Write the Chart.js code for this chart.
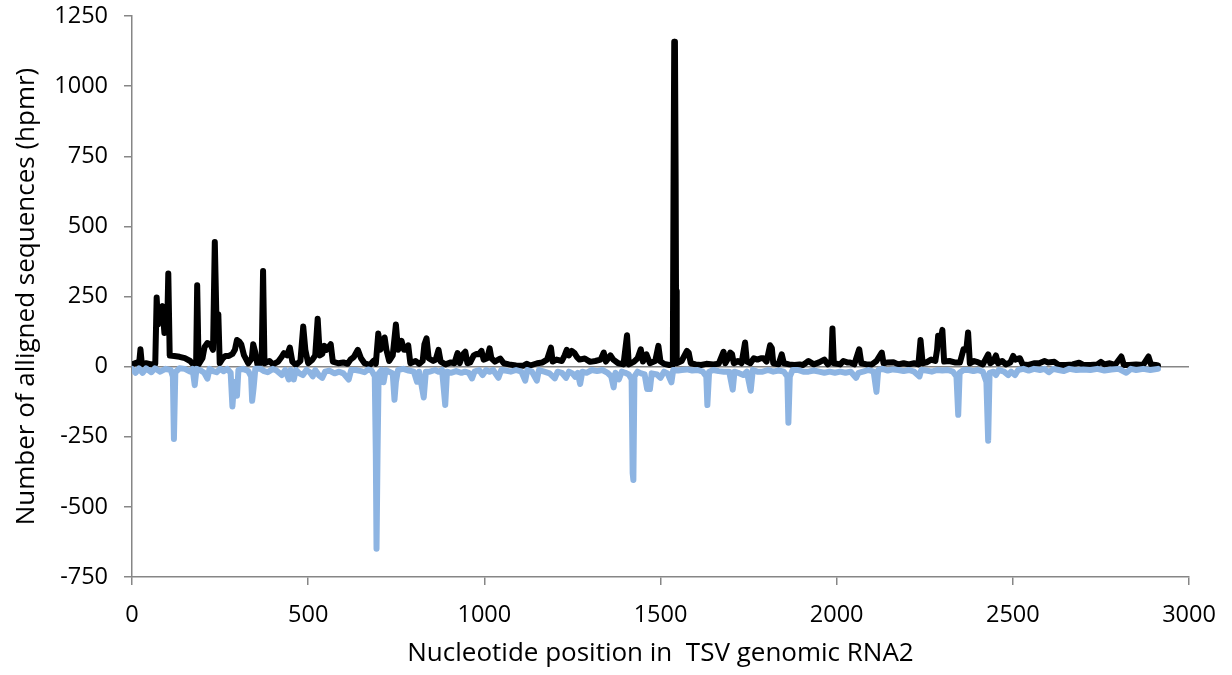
<!DOCTYPE html>
<html>
<head>
<meta charset="utf-8">
<script src="https://cdn.jsdelivr.net/npm/chart.js@4.4.1/dist/chart.umd.min.js"></script>
<style>
  html, body { margin: 0; padding: 0; background: #fff; }
  #wrap { width: 1232px; height: 675px; }
</style>
</head>
<body>
<div id="wrap"><canvas id="readsChart" width="1232" height="675"></canvas></div>
<script>
// sense strand reads (black), positions along TSV RNA2
const sensePos = [
  0, 12, 20, 24, 28, 40, 55, 66, 70, 74, 78, 86, 92, 100, 103, 107, 120, 135, 150, 165, 175, 182, 185, 189,
  200, 206, 214, 222, 230, 235, 240, 245, 249, 258, 265, 275, 285, 292, 298, 304, 310, 318, 330, 340, 344,
  350, 356, 368, 372, 376, 390, 400, 415, 425, 431, 440, 448, 455, 465, 478, 486, 492, 500, 512, 520, 527,
  533, 540, 546, 552, 558, 564, 570, 585, 600, 612, 620, 630, 641, 650, 660, 675, 685, 692, 699, 705, 711,
  717, 722, 730, 740, 749, 755, 760, 765, 772, 778, 784, 790, 805, 815, 825, 830, 836, 842, 855, 862, 870,
  876, 890, 905, 915, 924, 930, 940, 946, 952, 960, 970, 978, 984, 992, 998, 1008, 1015, 1020, 1030, 1045,
  1055, 1070, 1090, 1110, 1120, 1130, 1150, 1165, 1178, 1189, 1194, 1205, 1220, 1228, 1234, 1240, 1248,
  1256, 1263, 1270, 1285, 1300, 1315, 1330, 1339, 1345, 1358, 1366, 1380, 1395, 1405, 1410, 1425, 1435,
  1444, 1450, 1460, 1470, 1485, 1494, 1500, 1510, 1525, 1535, 1537, 1539, 1541, 1543, 1544, 1546, 1560,
  1575, 1580, 1586, 1600, 1615, 1630, 1650, 1665, 1679, 1684, 1692, 1698, 1703, 1708, 1720, 1730, 1740,
  1745, 1755, 1765, 1775, 1785, 1792, 1801, 1811, 1816, 1820, 1835, 1844, 1850, 1865, 1880, 1895, 1905,
  1920, 1935, 1950, 1965, 1975, 1985, 1988, 1992, 2010, 2019, 2030, 2038, 2050, 2064, 2070, 2085, 2100,
  2113, 2128, 2133, 2145, 2161, 2175, 2190, 2205, 2220, 2232, 2238, 2244, 2255, 2268, 2280, 2285, 2288,
  2295, 2300, 2305, 2320, 2335, 2350, 2360, 2368, 2373, 2378, 2390, 2402, 2415, 2430, 2436, 2445, 2452,
  2458, 2470, 2480, 2493, 2501, 2507, 2520, 2528, 2545, 2560, 2575, 2590, 2600, 2618, 2630, 2650, 2670,
  2688, 2700, 2720, 2740, 2750, 2760, 2775, 2790, 2808, 2815, 2830, 2850, 2870, 2885, 2892, 2905, 2912
];
const senseReads = [
  8, 14, 8, 62, 8, 12, 8, 10, 246, 150, 200, 216, 120, 150, 332, 40, 38, 35, 30, 20, 6, 10, 290, 8,
  30, 70, 84, 80, 60, 444, 150, 187, 12, 30, 38, 38, 45, 60, 95, 90, 80, 40, 12, 30, 80,
  50, 8, 15, 341, 12, 20, 8, 18, 35, 48, 40, 68, 18, 6, 20, 143, 60, 12, 25, 40, 171,
  40, 45, 74, 60, 70, 80, 18, 12, 15, 10, 25, 35, 60, 30, 12, 6, 20, 10, 118, 60, 80,
  104, 60, 20, 40, 150, 60, 70, 92, 60, 60, 76, 12, 20, 10, 20, 80, 101, 30, 20, 25, 60,
  18, 8, 15, 12, 48, 12, 45, 53, 12, 15, 40, 45, 44, 56, 25, 30, 65, 30, 18, 29,
  12, 8, 4, 3, 10, 4, 12, 15, 25, 68, 18, 25, 20, 40, 60, 40, 56,
  48, 34, 25, 29, 17, 20, 25, 50, 18, 40, 25, 12, 8, 112, 8, 18, 30,
  62, 18, 44, 12, 20, 74, 18, 10, 6, 8, 650, 1158, 1150, 660, 270, 12, 20,
  56, 50, 12, 8, 6, 10, 8, 10, 53, 12, 30, 50, 45, 12, 20, 12, 86,
  18, 12, 30, 25, 30, 30, 18, 76, 66, 12, 8, 44, 12, 8, 6, 8, 6,
  20, 8, 15, 25, 8, 20, 136, 12, 8, 20, 15, 15, 8, 62, 12, 8, 8,
  20, 50, 12, 15, 16, 8, 12, 8, 12, 8, 95, 12, 15, 25, 20, 60, 110,
  90, 131, 18, 20, 15, 15, 62, 60, 122, 12, 20, 15, 8, 44, 12, 20, 40,
  12, 20, 8, 15, 38, 25, 30, 8, 6, 12, 12, 20, 15, 17, 6, 6, 8,
  14, 6, 6, 8, 17, 8, 12, 6, 36, 6, 6, 8, 6, 36, 8, 6, 4
];

// antisense strand reads (light blue), plotted below zero
const antisensePos = [
  0, 10, 20, 30, 40, 55, 65, 80, 95, 110, 116, 119, 123, 135, 150, 165, 172, 178, 183, 195, 205, 214, 220,
  230, 240, 250, 260, 270, 280, 285, 290, 295, 298, 302, 315, 330, 338, 341, 345, 350, 365, 375, 385, 400,
  410, 425, 435, 445, 450, 459, 465, 475, 485, 495, 505, 513, 520, 530, 540, 548, 560, 575, 588, 600, 615,
  622, 635, 650, 660, 670, 680, 689, 692, 694, 697, 700, 708, 714, 720, 730, 740, 745, 749, 755, 770, 785,
  800, 809, 815, 828, 834, 845, 860, 870, 880, 889, 894, 905, 920, 935, 945, 956, 965, 972, 985, 995,
  1005, 1015, 1025, 1040, 1048, 1060, 1075, 1090, 1105, 1116, 1122, 1135, 1149, 1155, 1170, 1185, 1200,
  1208, 1220, 1232, 1240, 1250, 1258, 1265, 1272, 1278, 1290, 1305, 1320, 1335, 1350, 1360, 1367, 1372,
  1382, 1390, 1400, 1410, 1418, 1421, 1423, 1426, 1435, 1445, 1455, 1462, 1466, 1470, 1475, 1490, 1500,
  1510, 1520, 1531, 1536, 1550, 1560, 1575, 1590, 1605, 1620, 1630, 1633, 1638, 1650, 1665, 1680, 1695,
  1705, 1710, 1720, 1735, 1745, 1756, 1762, 1775, 1790, 1805, 1820, 1835, 1850, 1860, 1863, 1867, 1875,
  1890, 1905, 1920, 1935, 1950, 1965, 1980, 1995, 2010, 2025, 2040, 2055, 2062, 2075, 2090, 2105, 2113,
  2118, 2130, 2145, 2160, 2175, 2190, 2205, 2220, 2235, 2240, 2255, 2270, 2285, 2300, 2315, 2330, 2340,
  2345, 2349, 2360, 2375, 2388, 2400, 2415, 2425, 2430, 2434, 2445, 2452, 2460, 2475, 2487, 2495, 2506,
  2515, 2530, 2545, 2560, 2577, 2590, 2602, 2615, 2630, 2645, 2660, 2680, 2700, 2720, 2740, 2760, 2780,
  2800, 2822, 2835, 2850, 2870, 2890, 2912
];
const antisenseReads = [
  -8, -22, -6, -22, -6, -20, -6, -18, -8, -12, -35, -258, -20, -6, -8, -18, -8, -66, -8, -14, -22, -43, -8,
  -16, -20, -8, -16, -8, -22, -142, -55, -55, -104, -12, -8, -16, -35, -122, -78, -8, -8, -16, -20, -8,
  -14, -30, -12, -46, -12, -46, -12, -24, -30, -12, -20, -35, -12, -30, -40, -18, -14, -24, -18, -24, -46,
  -12, -12, -16, -20, -10, -14, -35, -310, -649, -300, -25, -12, -56, -12, -18, -24, -118, -55, -12, -8, -14,
  -18, -54, -18, -110, -18, -18, -12, -18, -12, -137, -18, -22, -16, -22, -18, -22, -42, -18, -12, -30,
  -12, -18, -12, -40, -12, -14, -18, -12, -18, -50, -12, -18, -50, -12, -18, -24, -42,
  -18, -22, -40, -18, -24, -36, -22, -62, -18, -22, -12, -16, -12, -22, -35, -74, -22,
  -45, -18, -22, -28, -45, -380, -404, -35, -18, -24, -28, -80, -80, -80, -24, -28, -40,
  -18, -24, -56, -12, -14, -12, -10, -14, -12, -18, -35, -137, -18, -12, -16, -18, -18,
  -82, -18, -22, -30, -18, -86, -12, -18, -18, -12, -18, -14, -18, -35, -200, -35, -12,
  -12, -18, -18, -14, -18, -22, -18, -22, -18, -22, -18, -40, -22, -18, -12, -18, -90,
  -12, -8, -14, -10, -12, -16, -12, -18, -35, -12, -14, -18, -12, -14, -12, -18, -35,
  -172, -22, -12, -12, -16, -12, -18, -55, -264, -22, -18, -30, -12, -18, -30, -18, -30,
  -12, -8, -14, -8, -12, -8, -20, -8, -12, -16, -8, -12, -10, -12, -8, -14, -10,
  -8, -22, -8, -12, -8, -12, -8
];

const xTicks = [0, 500, 1000, 1500, 2000, 2500, 3000];
const yTicks = [-750, -500, -250, 0, 250, 500, 750, 1000, 1250];

const axisGray = '#868686';
const tickFont = { family: 'Open Sans', size: 23.5 };
const titleFont = { family: 'Open Sans', size: 26 };

const toPoints = (xs, ys) => xs.map((x, i) => ({ x: x, y: ys[i] }));

const ctx = document.getElementById('readsChart').getContext('2d');
new Chart(ctx, {
  type: 'line',
  data: {
    datasets: [
      {
        label: 'antisense',
        data: toPoints(antisensePos, antisenseReads),
        borderColor: '#8DB4E2',
        borderWidth: 6,
        borderCapStyle: 'round',
        borderJoinStyle: 'round',
        pointRadius: 0,
        tension: 0,
        order: 0
      },
      {
        label: 'sense',
        data: toPoints(sensePos, senseReads),
        borderColor: '#000000',
        borderWidth: 6,
        borderCapStyle: 'round',
        borderJoinStyle: 'round',
        pointRadius: 0,
        tension: 0,
        order: 1
      }
    ]
  },
  options: {
    responsive: false,
    animation: false,
    layout: { padding: { top: 16, right: 43, left: 0, bottom: 0 } },
    plugins: { legend: { display: false }, tooltip: { enabled: false } },
    scales: {
      x: {
        type: 'linear',
        min: xTicks[0],
        max: xTicks[xTicks.length - 1],
        afterBuildTicks: (scale) => { scale.ticks = xTicks.map(v => ({ value: v })); },
        afterFit: (scale) => { scale.height = 98; scale.paddingLeft = 0; scale.paddingRight = 0; },
        border: { color: axisGray, width: 1.5 },
        grid: { drawOnChartArea: false, tickColor: axisGray, tickLength: 8, lineWidth: 1.5 },
        ticks: { color: '#000', font: tickFont, padding: 16, maxRotation: 0, callback: (v) => String(v) },
        title: {
          display: true,
          text: 'Nucleotide position in  TSV genomic RNA2',
          color: '#000',
          font: titleFont,
          padding: { bottom: 6, top: 0 }
        }
      },
      y: {
        type: 'linear',
        min: yTicks[0],
        max: yTicks[yTicks.length - 1],
        afterBuildTicks: (scale) => { scale.ticks = yTicks.map(v => ({ value: v })); },
        afterFit: (scale) => { scale.width = 132; scale.paddingTop = 0; scale.paddingBottom = 0; },
        border: { color: axisGray, width: 1.5 },
        grid: {
          color: (c) => (c.tick && c.tick.value === 0 ? axisGray : 'rgba(0,0,0,0)'),
          tickColor: axisGray,
          tickLength: 8,
          lineWidth: 1.5
        },
        ticks: { color: '#000', font: tickFont, padding: 16, callback: (v) => String(v) },
        title: {
          display: true,
          text: 'Number of alligned sequences (hpmr)',
          color: '#000',
          font: titleFont,
          padding: { top: 11, bottom: 0 }
        }
      }
    }
  }
});
</script>
</body>
</html>
